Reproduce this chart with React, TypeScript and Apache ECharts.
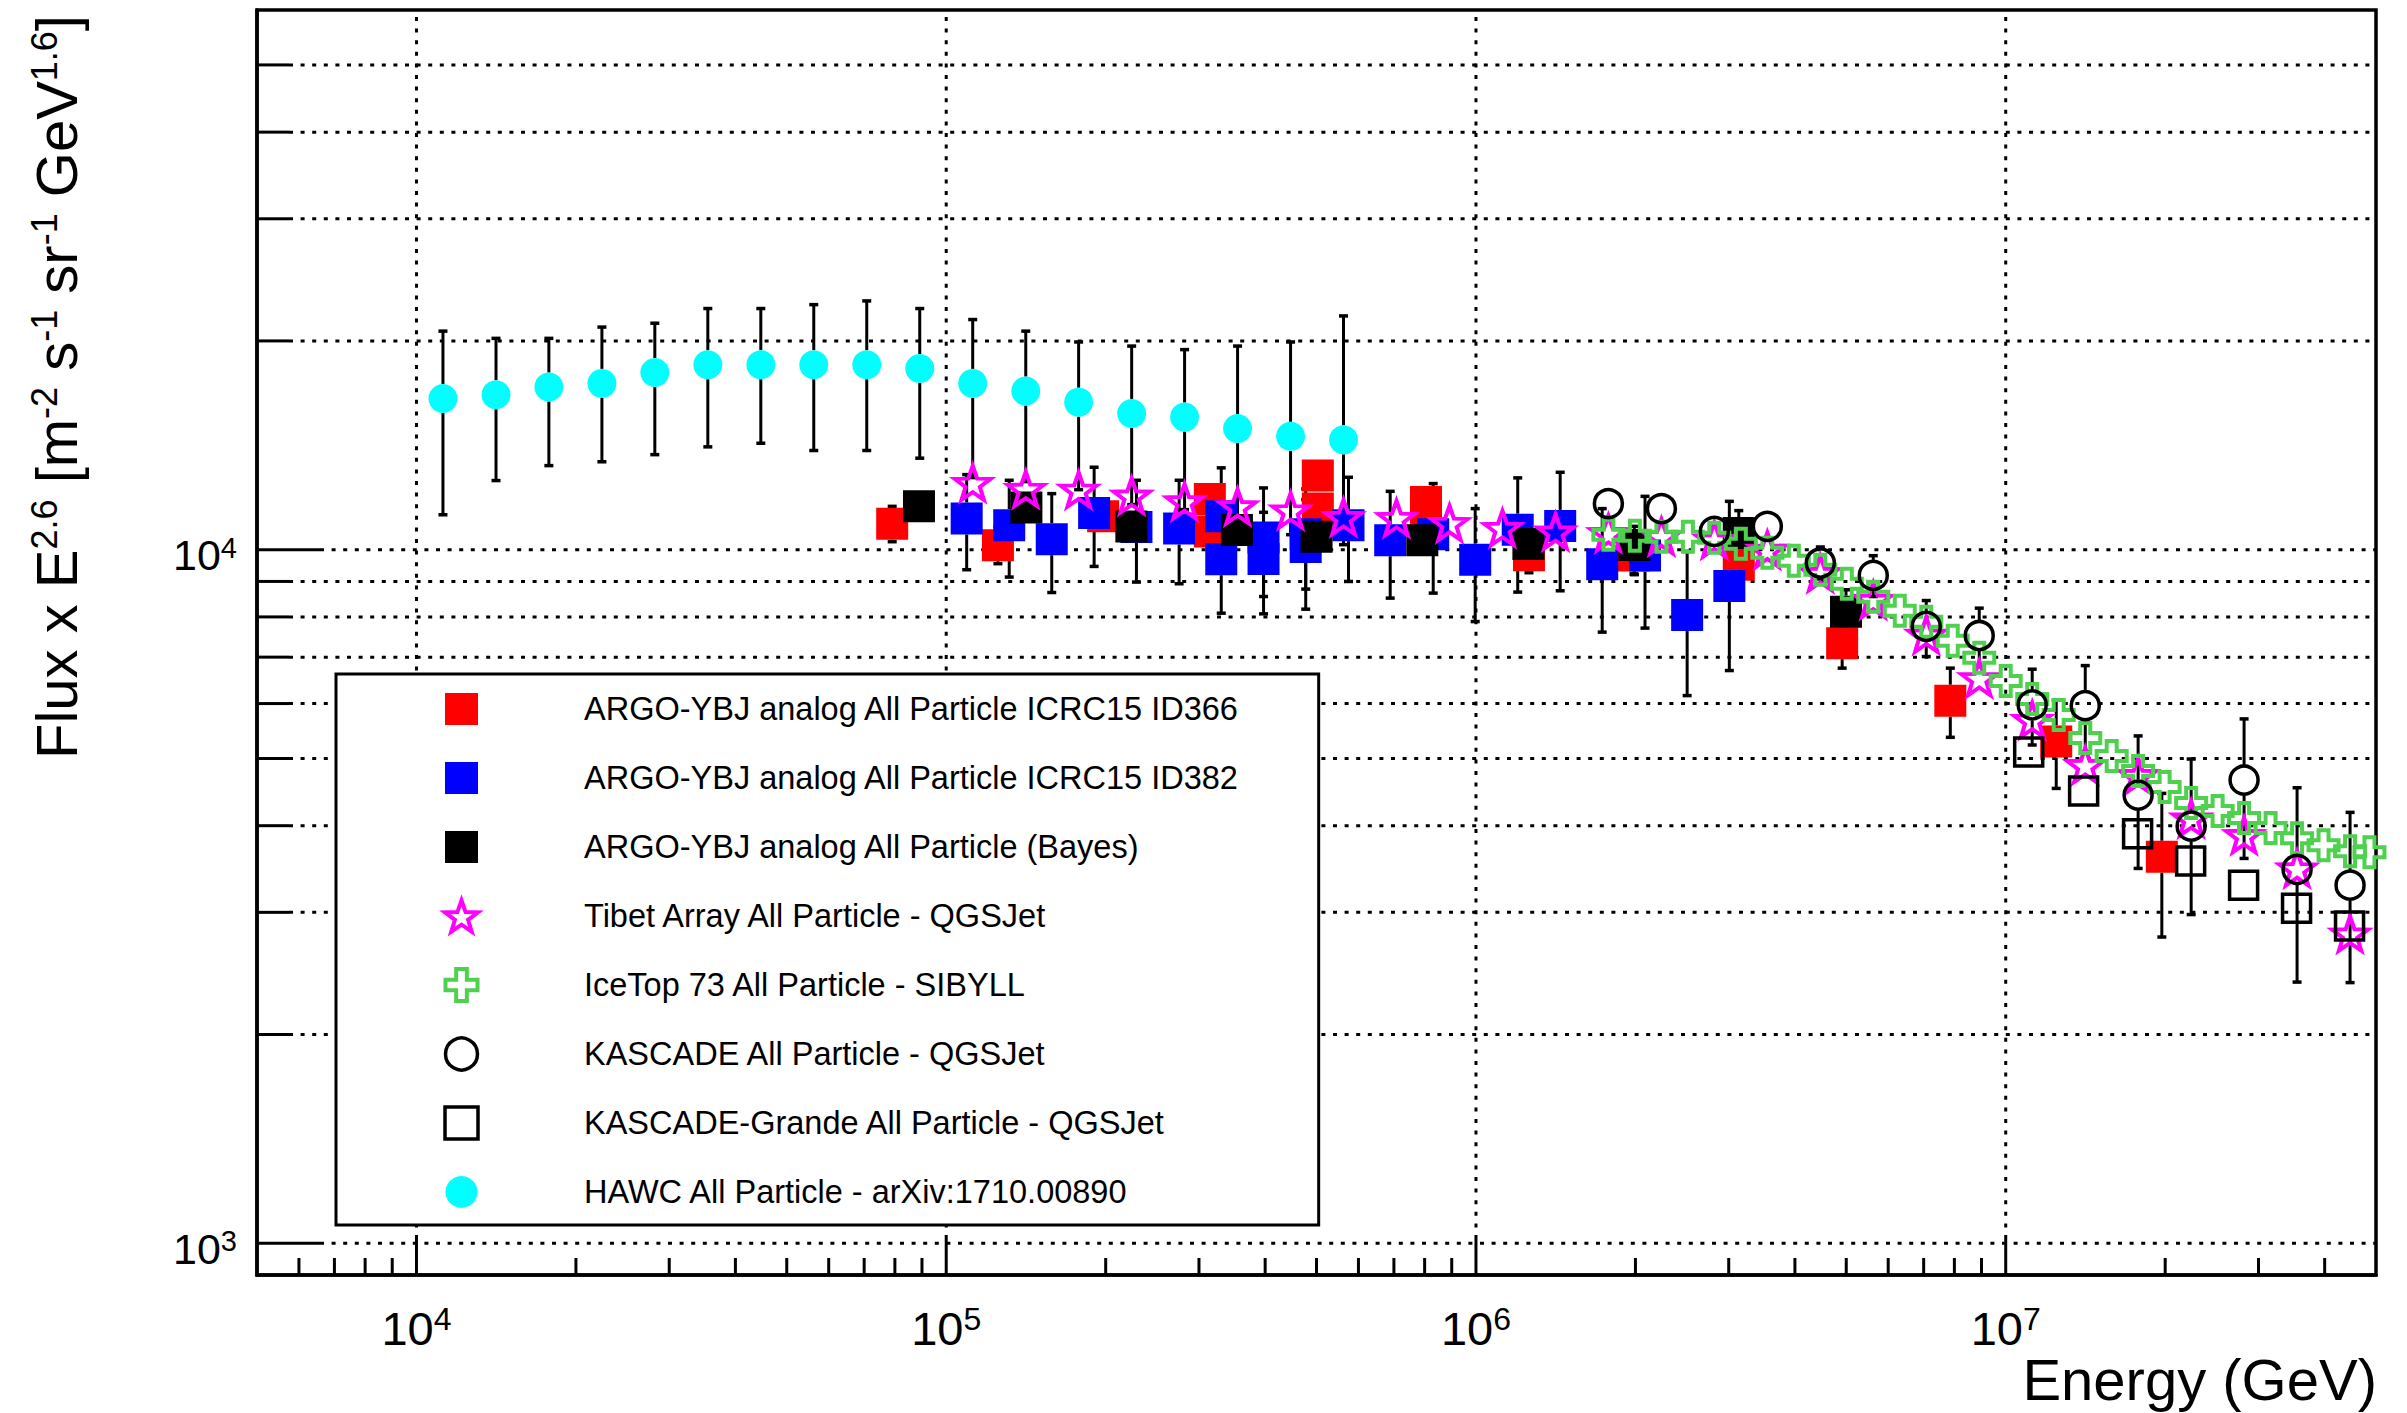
import React, { useEffect, useRef } from 'react';
import * as echarts from 'echarts';

const FONT = '"Liberation Sans", Arial, Helvetica, sans-serif';

// ---- axis ranges and ticks ----
const X_MIN = 5000;
const X_MAX = 5e7;
const Y_MIN = 900;
const Y_MAX = 60000;
const xMajorTicks = [1e4, 1e5, 1e6, 1e7];
const xMinorTicks = [6000, 7000, 8000, 9000, 2e4, 3e4, 4e4, 5e4, 6e4, 7e4, 8e4, 9e4, 2e5, 3e5, 4e5, 5e5, 6e5, 7e5, 8e5, 9e5, 2e6, 3e6, 4e6, 5e6, 6e6, 7e6, 8e6, 9e6, 2e7, 3e7, 4e7];
const yMajorTicks = [1000, 10000];
const yMinorTicks = [2000, 3000, 4000, 5000, 6000, 7000, 8000, 9000, 20000, 30000, 40000, 50000];

// ---- series names ----
const N_RED = 'ARGO-YBJ analog All Particle ICRC15 ID366';
const N_BLUE = 'ARGO-YBJ analog All Particle ICRC15 ID382';
const N_BLACK = 'ARGO-YBJ analog All Particle (Bayes)';
const N_TIBET = 'Tibet Array All Particle - QGSJet';
const N_ICE = 'IceTop 73 All Particle - SIBYLL';
const N_KAS = 'KASCADE All Particle - QGSJet';
const N_KG = 'KASCADE-Grande All Particle - QGSJet';
const N_HAWC = 'HAWC All Particle - arXiv:1710.00890';

// ---- data (Energy in GeV, Flux x E^2.6) ----
const redE = [79070, 125200, 197800, 314500, 314500, 502900, 502900, 804700, 804700, 1259000, 1987000, 3134000, 4912000, 7860000, 12455000, 19710000];
const redF = [10902, 10151, 11171, 11838, 10626, 12790, 11462, 11712, 11424, 9819, 9813, 9513, 7333, 6057, 5290, 3608];
const redLo = [10269, 9546, null, null, null, null, null, null, null, 9264, 9230, null, 6749, 5364, 4527, 2764];
const redHi = [11548, 10795, null, null, null, null, null, null, null, 10435, 10420, null, 7966, 6749, 6073, 4453];

const blueE = [109300, 131500, 158200, 190200, 228600, 275200, 330500, 330500, 397200, 397200, 477100, 477100, 574600, 688800, 830400, 996600, 1199000, 1442000, 1731000, 2085000, 2504000, 3008000];
const blueF = [11092, 10849, 10355, 11297, 10784, 10730, 11171, 9689, 10417, 9696, 10529, 10093, 10849, 10321, 10529, 9673, 10687, 10823, 9529, 9809, 8049, 8866];
const blueLo = [9357, 9131, 8675, 9460, 8981, 8931, 9513, 8100, 8560, 8082, 8774, 8208, 8999, 8515, 8658, 7878, 8687, 8725, 7606, 7708, 6161, 6695];
const blueHi = [12831, 12592, 12046, 13149, 12592, 12592, 13123, 11423, 12276, 11321, 12235, 11808, 12718, 12138, 12455, 11461, 12693, 12931, 11461, 11938, 9944, 11741];

const blackE = [88830, 141700, 223600, 353800, 500100, 792000, 1256000, 1991000, 3134000, 4995000];
const blackF = [11549, 11507, 10802, 10676, 10442, 10321, 10195, 10161, 10571, 8141];
const blackLo = [null, null, null, null, null, null, null, 9204, 9760, 7563];
const blackHi = [null, null, null, null, null, null, null, 10806, 11385, 8755];

const tibetE = [112200, 141300, 177800, 223900, 281800, 354800, 446700, 562300, 707900, 891300, 1122000, 1413000, 1778000, 2239000, 2818000, 3548000, 4467000, 5623000, 7079000, 8913000, 11220000, 14130000, 17780000, 22390000, 28180000, 35480000, 44670000];
const tibetF = [12484, 12235, 12206, 11970, 11744, 11549, 11394, 11147, 11110, 10928, 10748, 10627, 10571, 10452, 10338, 10000, 9255, 8467, 7541, 6527, 5683, 4892, 4732, 4098, 3877, 3471, 2796];

const iceE = [1778000, 1995000, 2239000, 2512000, 2818000, 3162000, 3548000, 3981000, 4467000, 5012000, 5623000, 6310000, 7079000, 7943000, 8913000, 10000000, 11220000, 12590000, 14130000, 15850000, 17780000, 19950000, 22390000, 25120000, 28180000, 31620000, 35480000, 39810000, 44670000, 48600000];
const iceF = [10511, 10477, 10442, 10442, 10407, 10202, 9901, 9641, 9357, 8931, 8551, 8162, 7870, 7389, 6983, 6469, 6094, 5778, 5353, 5041, 4797, 4547, 4312, 4199, 4102, 3968, 3838, 3750, 3675, 3663];

const kasE = [1778000, 2239000, 2818000, 3548000, 4467000, 5623000, 7079000, 8913000, 11220000, 14130000, 17780000, 22390000, 28180000, 35480000, 44670000];
const kasF = [11653, 11461, 10627, 10806, 9568, 9182, 7752, 7521, 5973, 5959, 4428, 3994, 4655, 3459, 3283];
const kasLo = [null, null, null, null, 9073, 8560, 7013, 6783, 5229, 5114, 3471, 2978, 3588, 2380, 2376];
const kasHi = [null, null, null, null, 10090, 9803, 8447, 8236, 6725, 6806, 5389, 4991, 5702, 4537, 4181];

const kgE = [11050000, 14030000, 17740000, 22340000, 28120000, 35400000, 44570000];
const kgF = [5109, 4487, 3894, 3558, 3283, 3041, 2867];

const hawcE = [11220, 14130, 17780, 22390, 28180, 35480, 44670, 56230, 70790, 89130, 112200, 141300, 177800, 223900, 281800, 354800, 446700, 562300];
const hawcF = [16520, 16730, 17160, 17370, 18010, 18480, 18480, 18480, 18480, 18250, 17370, 16930, 16320, 15720, 15530, 14950, 14570, 14400];
const hawcLo = [11230, 12580, 13220, 13390, 13710, 14070, 14240, 13900, 13900, 13550, 12706, 12538, 12206, 11614, 11423, 10867, 10511, 10168];
const hawcHi = [20660, 20170, 20170, 20940, 21210, 22270, 22270, 22560, 22840, 22270, 21470, 20660, 19930, 19660, 19430, 19660, 19930, 21730];

// ---- marker shapes ----
const STAR = 'path://M0,-100L23.5,-32.4L95.1,-30.9L38,12.4L58.8,80.9L0,40L-58.8,80.9L-38,12.4L-95.1,-30.9L-23.5,-32.4Z';
const CROSS = 'path://M-1,-3L1,-3L1,-1L3,-1L3,1L1,1L1,3L-1,3L-1,1L-3,1L-3,-1L-1,-1Z';
const GREEN = '#4fd04f';
const MAGENTA = '#ff00ff';
const CLEAR = 'rgba(0,0,0,0)';

function pairs(E: number[], F: number[]) {
  return E.map((e, i) => [e, F[i]]);
}

function errSeries(name: string, E: number[], F: number[], lo: (number | null)[], hi: (number | null)[], gap: number) {
  const data: number[][] = [];
  E.forEach((e, i) => {
    if (lo[i] != null || hi[i] != null) {
      data.push([e, F[i], lo[i] != null ? (lo[i] as number) : F[i], hi[i] != null ? (hi[i] as number) : F[i]]);
    }
  });
  return {
    type: 'custom',
    name: name + ' (errors)',
    silent: true,
    encode: { x: 0, y: 1 },
    data,
    renderItem: (_params: any, api: any) => {
      const e = api.value(0);
      const c = api.coord([e, api.value(1)]);
      const l = api.coord([e, api.value(2)]);
      const h = api.coord([e, api.value(3)]);
      const st = { stroke: '#000', lineWidth: 3 };
      const cap = { stroke: '#000', lineWidth: 3.5 };
      const ch: any[] = [];
      if (h[1] < c[1] - gap) {
        ch.push({ type: 'line', shape: { x1: c[0], y1: c[1] - gap, x2: c[0], y2: h[1] }, style: st });
        ch.push({ type: 'line', shape: { x1: c[0] - 4.5, y1: h[1], x2: c[0] + 4.5, y2: h[1] }, style: cap });
      }
      if (l[1] > c[1] + gap) {
        ch.push({ type: 'line', shape: { x1: c[0], y1: c[1] + gap, x2: c[0], y2: l[1] }, style: st });
        ch.push({ type: 'line', shape: { x1: c[0] - 4.5, y1: l[1], x2: c[0] + 4.5, y2: l[1] }, style: cap });
      }
      return { type: 'group', children: ch };
    },
  };
}

function gridSeries() {
  const data = [
    ...yMajorTicks.map((v) => [X_MIN, v, 0]),
    ...yMinorTicks.map((v) => [X_MIN, v, 1]),
    ...xMajorTicks.map((v) => [v, Y_MIN, 2]),
    ...xMinorTicks.map((v) => [v, Y_MIN, 3]),
  ];
  return {
    type: 'custom',
    name: 'frame-grid',
    silent: true,
    z: 1,
    encode: { x: 0, y: 1 },
    data,
    renderItem: (params: any, api: any) => {
      const kind = api.value(2);
      const cs = params.coordSys;
      const left = cs.x;
      const right = cs.x + cs.width;
      const top = cs.y;
      const bottom = cs.y + cs.height;
      const dot = { stroke: '#000', lineWidth: 3, lineDash: [4, 7.6] };
      const solid = { stroke: '#000', lineWidth: 3 };
      const p = api.coord([api.value(0), api.value(1)]);
      if (kind < 2) {
        const len = kind === 0 ? 63 : 32;
        return {
          type: 'group',
          children: [
            { type: 'line', shape: { x1: left + len, y1: p[1], x2: right, y2: p[1] }, style: dot },
            { type: 'line', shape: { x1: left, y1: p[1], x2: left + len, y2: p[1] }, style: solid },
          ],
        };
      }
      const len = kind === 2 ? 36 : 17;
      const ch: any[] = [{ type: 'line', shape: { x1: p[0], y1: bottom, x2: p[0], y2: bottom - len }, style: solid }];
      if (kind === 2) {
        ch.push({ type: 'line', shape: { x1: p[0], y1: bottom - len, x2: p[0], y2: top }, style: dot });
      }
      return { type: 'group', children: ch };
    },
  };
}

function decadeLabel(v: number) {
  const l = Math.log10(v);
  const r = Math.round(l);
  if (Math.abs(l - r) > 1e-6) return '';
  return '{b|10}{s|' + r + '}';
}

function scatter(name: string, E: number[], F: number[], symbol: string, size: any, itemStyle: any) {
  return {
    type: 'scatter',
    name,
    silent: true,
    data: pairs(E, F),
    symbol,
    symbolSize: size,
    itemStyle: { opacity: 1, ...itemStyle },
    emphasis: { disabled: true },
  };
}

function buildOption() {
  return {
    animation: false,
    backgroundColor: '#ffffff',
    grid: {
      left: 257,
      top: 10,
      right: 31,
      bottom: 138,
      show: true,
      borderColor: '#000',
      borderWidth: 3.5,
      backgroundColor: '#fff',
      containLabel: false,
      outerBoundsMode: 'none',
    },
    xAxis: {
      type: 'log',
      logBase: 10,
      min: X_MIN,
      max: X_MAX,
      axisLine: { show: true, onZero: false, lineStyle: { color: '#000', width: 3.5 } },
      axisTick: { show: false },
      splitLine: { show: false },
      minorTick: { show: false },
      minorSplitLine: { show: false },
      axisLabel: {
        interval: 0,
        margin: 28,
        hideOverlap: false,
        formatter: decadeLabel,
        rich: {
          b: { fontSize: 47, lineHeight: 50, fontFamily: FONT, color: '#000' },
          s: { fontSize: 32, lineHeight: 13, verticalAlign: 'top', fontFamily: FONT, color: '#000' },
        },
      },
    },
    yAxis: {
      type: 'log',
      logBase: 10,
      min: Y_MIN,
      max: Y_MAX,
      axisLine: { show: true, onZero: false, lineStyle: { color: '#000', width: 3.5 } },
      axisTick: { show: false },
      splitLine: { show: false },
      minorTick: { show: false },
      minorSplitLine: { show: false },
      axisLabel: {
        interval: 0,
        margin: 20,
        hideOverlap: false,
        padding: [11, 0, 0, 0],
        formatter: decadeLabel,
        rich: {
          b: { fontSize: 43, lineHeight: 44, fontFamily: FONT, color: '#000' },
          s: { fontSize: 29, lineHeight: 10, verticalAlign: 'top', fontFamily: FONT, color: '#000' },
        },
      },
    },
    legend: {
      orient: 'vertical',
      left: 336,
      top: 674,
      padding: [17, 79, 15, 107],
      itemGap: 33,
      itemWidth: 33,
      itemHeight: 32,
      backgroundColor: '#fff',
      borderColor: '#000',
      borderWidth: 3,
      borderRadius: 0,
      selectedMode: false,
      textStyle: { fontFamily: FONT, fontSize: 32.5, color: '#000', padding: [0, 0, 0, 101], lineHeight: 36 },
      data: [
        { name: N_RED, icon: 'rect', itemStyle: { color: '#ff0000', borderWidth: 0, opacity: 1 } },
        { name: N_BLUE, icon: 'rect', itemStyle: { color: '#0000ff', borderWidth: 0, opacity: 1 } },
        { name: N_BLACK, icon: 'rect', itemStyle: { color: '#000000', borderWidth: 0, opacity: 1 } },
        { name: N_TIBET, icon: STAR, itemStyle: { color: CLEAR, borderColor: MAGENTA, borderWidth: 4, opacity: 1 } },
        { name: N_ICE, icon: CROSS, itemStyle: { color: CLEAR, borderColor: GREEN, borderWidth: 4, opacity: 1 } },
        { name: N_KAS, icon: 'circle', itemStyle: { color: CLEAR, borderColor: '#000', borderWidth: 3.5, opacity: 1 } },
        { name: N_KG, icon: 'rect', itemStyle: { color: CLEAR, borderColor: '#000', borderWidth: 3.5, opacity: 1 } },
        { name: N_HAWC, icon: 'circle', itemStyle: { color: '#00ffff', borderWidth: 0, opacity: 1 } },
      ],
    },
    graphic: [
      {
        type: 'text',
        x: 2377,
        y: 1379,
        style: { text: 'Energy (GeV)', fontSize: 58, fontFamily: FONT, fill: '#000', align: 'right', verticalAlign: 'middle' },
      },
      {
        type: 'text',
        x: 56,
        y: 15,
        rotation: Math.PI / 2,
        style: {
          text: '{b|Flux x E}{s|2.6}{b| [m}{s|-2}{b| s}{s|-1}{b| sr}{s|-1}{b| GeV}{s|1.6}{b|]}',
          align: 'right',
          verticalAlign: 'middle',
          fill: '#000',
          fontFamily: FONT,
          fontSize: 58,
          rich: {
            b: { fontSize: 58, lineHeight: 60, fontFamily: FONT, fill: '#000' },
            s: { fontSize: 36, lineHeight: 8, verticalAlign: 'top', fontFamily: FONT, fill: '#000' },
          },
        },
      },
    ],
    series: [
      gridSeries(),
      errSeries(N_HAWC, hawcE, hawcF, hawcLo, hawcHi, 14.5),
      scatter(N_HAWC, hawcE, hawcF, 'circle', 29, { color: '#00ffff' }),
      errSeries(N_RED, redE, redF, redLo, redHi, 16),
      scatter(N_RED, redE, redF, 'rect', 32, { color: '#ff0000' }),
      errSeries(N_BLUE, blueE, blueF, blueLo, blueHi, 16),
      scatter(N_BLUE, blueE, blueF, 'rect', 32, { color: '#0000ff' }),
      errSeries(N_BLACK, blackE, blackF, blackLo, blackHi, 16),
      scatter(N_BLACK, blackE, blackF, 'rect', 32, { color: '#000000' }),
      scatter(N_TIBET, tibetE, tibetF, STAR, [36, 34], { color: CLEAR, borderColor: MAGENTA, borderWidth: 4 }),
      scatter(N_ICE, iceE, iceF, CROSS, 30, { color: CLEAR, borderColor: GREEN, borderWidth: 4 }),
      errSeries(N_KAS, kasE, kasF, kasLo, kasHi, 15.5),
      scatter(N_KAS, kasE, kasF, 'circle', 28, { color: CLEAR, borderColor: '#000', borderWidth: 3.5 }),
      scatter(N_KG, kgE, kgF, 'rect', 28, { color: CLEAR, borderColor: '#000', borderWidth: 3.5 }),
    ],
  };
}

export default function App() {
  const ref = useRef<HTMLDivElement>(null);
  useEffect(() => {
    document.body.style.margin = '0';
    const chart = echarts.init(ref.current as HTMLDivElement, null, { renderer: 'svg', width: 2407, height: 1413 });
    chart.setOption(buildOption() as any);
    return () => {
      chart.dispose();
    };
  }, []);
  return <div ref={ref} style={{ width: 2407, height: 1413 }} />;
}
